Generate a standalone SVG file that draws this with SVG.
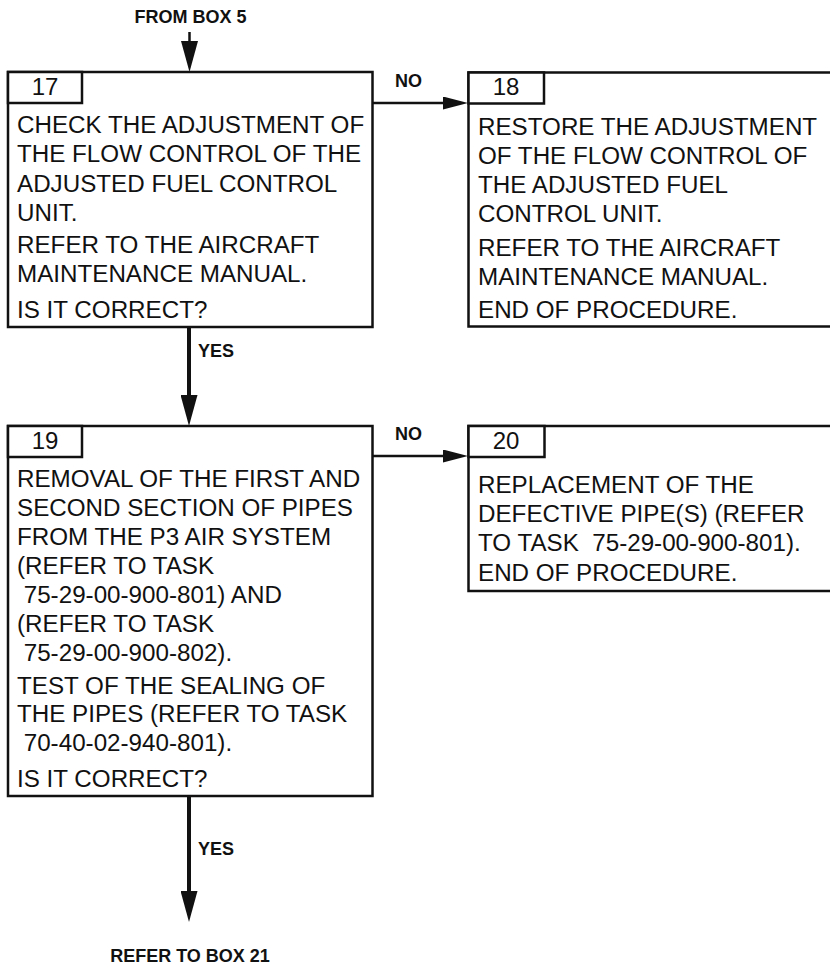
<svg xmlns="http://www.w3.org/2000/svg" width="830" height="965" viewBox="0 0 830 965">
<style>
.box{fill:#fff;stroke:#111;stroke-width:2.5}
.tab{fill:#fff;stroke:#111;stroke-width:2.5}
.t{font-family:"Liberation Sans",Arial,sans-serif;font-size:24.2px;fill:#111}
.num{font-family:"Liberation Sans",Arial,sans-serif;font-size:24px;fill:#111;text-anchor:middle}
.lbl{font-family:"Liberation Sans",Arial,sans-serif;font-size:18px;font-weight:bold;fill:#111}
.v{stroke:#111;stroke-width:4;fill:none}
.h{stroke:#111;stroke-width:2.5;fill:none}
</style>
<defs>
<marker id="ahV" markerUnits="userSpaceOnUse" viewBox="0 0 31 17" markerWidth="31" markerHeight="17" refX="11" refY="8.5" orient="auto">
<path d="M0,0 L31,8.5 L0,17 z" fill="#111"/>
</marker>
<marker id="ahH" markerUnits="userSpaceOnUse" viewBox="0 0 25 13" markerWidth="25" markerHeight="13" refX="10" refY="6.5" orient="auto">
<path d="M0,0 L25,6.5 L0,13 z" fill="#111"/>
</marker>
</defs>

<g id="connectors">
<text class="lbl" x="190.5" y="23" text-anchor="middle">FROM BOX 5</text>
<path class="h" d="M189.5,32 V52" marker-end="url(#ahV)"/>
<path class="h" d="M372.5,103 H453" marker-end="url(#ahH)"/>
<text class="lbl" x="395" y="87">NO</text>
<path class="v" d="M189,327 V406" marker-end="url(#ahV)"/>
<text class="lbl" x="198" y="357">YES</text>
<path class="h" d="M372.5,456 H453" marker-end="url(#ahH)"/>
<text class="lbl" x="395" y="440">NO</text>
<path class="v" d="M189,796 V902" marker-end="url(#ahV)"/>
<text class="lbl" x="198" y="855">YES</text>
<text class="lbl" x="190" y="962" text-anchor="middle">REFER TO BOX 21</text>
</g>

<g id="box17">
<rect class="box" x="8" y="72" width="364.5" height="255"/>
<rect class="tab" x="8" y="72" width="74" height="31"/>
<text class="num" x="45" y="95">17</text>
<text class="t" x="17" y="133">CHECK THE ADJUSTMENT OF</text>
<text class="t" x="17" y="162.3">THE FLOW CONTROL OF THE</text>
<text class="t" x="17" y="191.6">ADJUSTED FUEL CONTROL</text>
<text class="t" x="17" y="221">UNIT.</text>
<text class="t" x="17" y="253.3">REFER TO THE AIRCRAFT</text>
<text class="t" x="17" y="282.3">MAINTENANCE MANUAL.</text>
<text class="t" x="17" y="318.3">IS IT CORRECT?</text>
</g>

<g id="box18">
<rect class="box" x="468.5" y="72.5" width="380" height="254"/>
<rect class="tab" x="468.5" y="72.5" width="75.5" height="31"/>
<text class="num" x="506" y="94.5">18</text>
<text class="t" x="478" y="135">RESTORE THE ADJUSTMENT</text>
<text class="t" x="478" y="164">OF THE FLOW CONTROL OF</text>
<text class="t" x="478" y="193">THE ADJUSTED FUEL</text>
<text class="t" x="478" y="222">CONTROL UNIT.</text>
<text class="t" x="478" y="255.5">REFER TO THE AIRCRAFT</text>
<text class="t" x="478" y="284.5">MAINTENANCE MANUAL.</text>
<text class="t" x="478" y="318.3">END OF PROCEDURE.</text>
</g>

<g id="box19">
<rect class="box" x="8" y="426" width="364.5" height="370"/>
<rect class="tab" x="8" y="426" width="74" height="31"/>
<text class="num" x="45" y="448.5">19</text>
<text class="t" x="17" y="487">REMOVAL OF THE FIRST AND</text>
<text class="t" x="17" y="516">SECOND SECTION OF PIPES</text>
<text class="t" x="17" y="545">FROM THE P3 AIR SYSTEM</text>
<text class="t" x="17" y="574">(REFER TO TASK</text>
<text class="t" x="17" y="603" xml:space="preserve"> 75-29-00-900-801) AND</text>
<text class="t" x="17" y="632">(REFER TO TASK</text>
<text class="t" x="17" y="661" xml:space="preserve"> 75-29-00-900-802).</text>
<text class="t" x="17" y="693.5">TEST OF THE SEALING OF</text>
<text class="t" x="17" y="722">THE PIPES (REFER TO TASK</text>
<text class="t" x="17" y="751" xml:space="preserve"> 70-40-02-940-801).</text>
<text class="t" x="17" y="787">IS IT CORRECT?</text>
</g>

<g id="box20">
<rect class="box" x="468.5" y="426" width="380" height="165"/>
<rect class="tab" x="468.5" y="426" width="76" height="31"/>
<text class="num" x="506" y="449">20</text>
<text class="t" x="478" y="492.5">REPLACEMENT OF THE</text>
<text class="t" x="478" y="521.5">DEFECTIVE PIPE(S) (REFER</text>
<text class="t" x="478" y="550.5" xml:space="preserve">TO TASK  75-29-00-900-801).</text>
<text class="t" x="478" y="580.5">END OF PROCEDURE.</text>
</g>
</svg>
